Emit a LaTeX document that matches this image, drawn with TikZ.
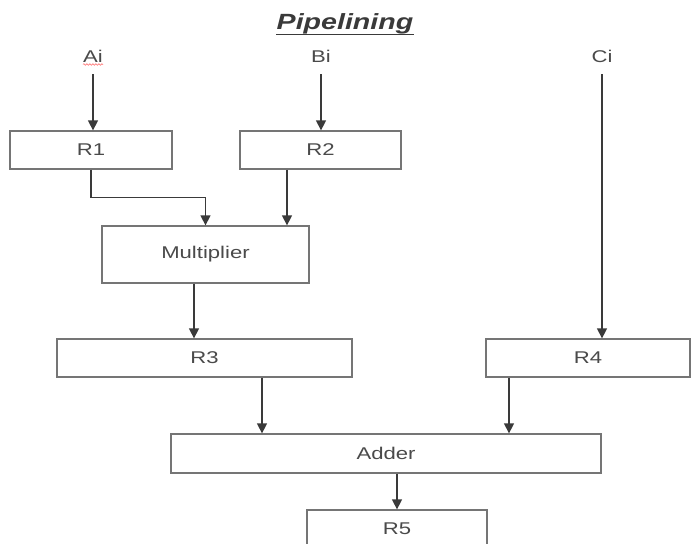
\documentclass[tikz,border=0pt]{standalone}
\usepackage{fontspec}
\setmainfont{Liberation Sans}
\usetikzlibrary{arrows.meta,decorations.pathmorphing}
\newcommand\stxt[1]{\scalebox{1.3}[1]{#1}}
\definecolor{txtgray}{HTML}{4A4A4A}
\definecolor{linegray}{HTML}{3A3A3A}
\tikzset{
  regbox/.style={draw=linegray!70, line width=1.3pt, rectangle, inner sep=0pt,
    minimum height=38pt, text=txtgray, font=\fontsize{17}{17}\selectfont},
  inlabel/.style={text=txtgray, font=\fontsize{17}{17}\selectfont, inner sep=0pt, anchor=base},
  arr/.style={draw=linegray, line width=1.4pt, -{Triangle[width=10pt,length=10pt]}},
}
\begin{document}
\begin{tikzpicture}[x=1pt,y=-1pt]
\useasboundingbox[fill=white] (0,0) rectangle (692,543);

% title
\node[anchor=base, inner sep=0pt, text=linegray,
      font=\fontsize{22}{22}\selectfont\bfseries\itshape] (title) at (345,30) {\stxt{Pipelining}};
\draw[linegray, line width=1.8pt] ([yshift=-4.5pt]title.base west) -- ([yshift=-4.5pt]title.base east);

% inputs
\node[inlabel] (ai) at (93,62) {\stxt{Ai}};
\node[inlabel] (bi) at (321,62) {\stxt{Bi}};
\node[inlabel] (ci) at (602,62) {\stxt{Ci}};
\draw[red!55, line width=0.6pt, decorate,
      decoration={snake, amplitude=0.8pt, segment length=3pt}]
  ([yshift=-2.5pt]ai.base west) -- ([yshift=-2.5pt]ai.base east);

% boxes
\node[regbox, minimum width=162pt] (r1) at (91,150) {\stxt{R1}};
\node[regbox, minimum width=161pt] (r2) at (320.5,150) {\stxt{R2}};
\node[regbox, minimum width=207pt, minimum height=57pt] (mult) at (205.5,254.5) {\stxt{Multiplier}};
\node[regbox, minimum width=295pt] (r3) at (204.5,358) {\stxt{R3}};
\node[regbox, minimum width=204pt] (r4) at (588,358) {\stxt{R4}};
\node[regbox, minimum width=430pt, minimum height=39pt] (adder) at (386,453.5) {\stxt{Adder}};
\node[regbox, minimum width=180pt] (r5) at (397,529) {\stxt{R5}};

% connectors
\draw[arr] ([yshift=-12pt]ai.base) -- (ai.base |- r1.north);
\draw[arr] ([yshift=-12pt]bi.base) -- (bi.base |- r2.north);
\draw[arr] ([yshift=-12pt]ci.base) -- (ci.base |- r4.north);
\draw[arr] (r1.south) -- ++(0,28) -| (mult.north);
\draw[arr] ([xshift=-33.5pt]r2.south) -- ([xshift=-33.5pt]r2.south |- mult.north);
\draw[arr] ([xshift=-11.5pt]mult.south) -- ([xshift=-11.5pt]mult.south |- r3.north);
\draw[arr] ([xshift=57.5pt]r3.south) -- ([xshift=57.5pt]r3.south |- adder.north);
\draw[arr] ([xshift=-79pt]r4.south) -- ([xshift=-79pt]r4.south |- adder.north);
\draw[arr] (adder.south -| r5.north) -- (r5.north);
\end{tikzpicture}
\end{document}
